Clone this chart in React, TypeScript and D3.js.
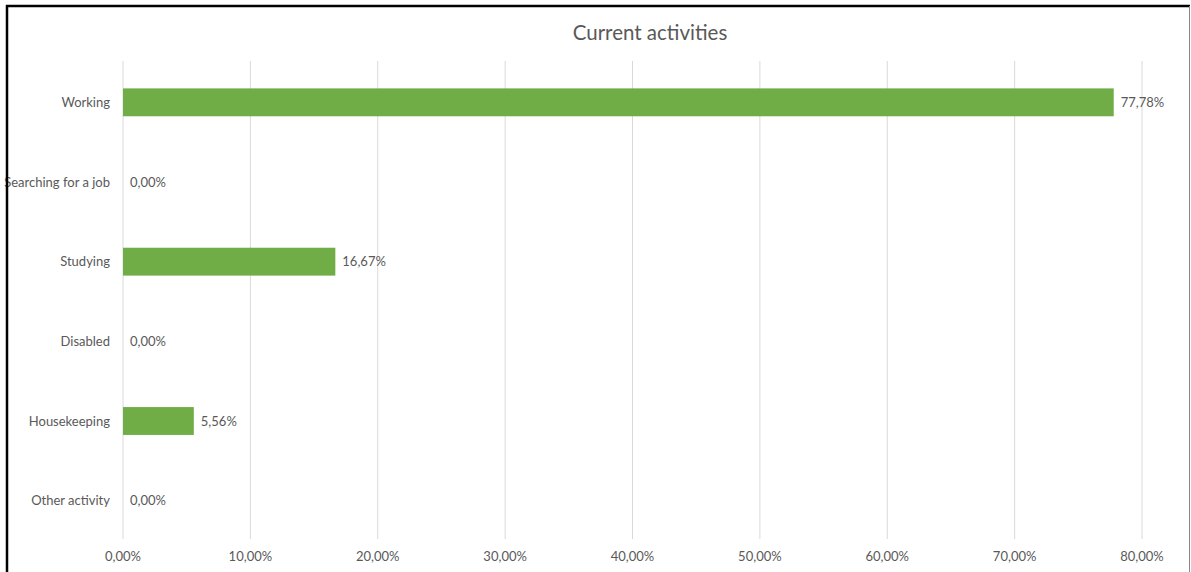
import React from "react";
import * as d3 from "d3";

const categories = ["Working", "Searching for a job", "Studying", "Disabled", "Housekeeping", "Other activity"];
const values = [77.78, 0, 16.67, 0, 5.56, 0];
const ticks = [0, 10, 20, 30, 40, 50, 60, 70, 80];
const title = "Current activities";

const W = 1191, H = 572;
const fmt = (v: number) => v.toFixed(2).replace(".", ",") + "%";

export default function App() {
  const x = d3.scaleLinear().domain([0, 80]).range([123, 1142]);
  const y = d3.scaleBand().domain(categories).range([62.5, 540.5]).paddingInner(0.65).paddingOuter(0.325);
  const font = "Lato, 'Open Sans', sans-serif";
  return (
    <svg width={W} height={H} style={{ position: "absolute", left: 0, top: 0, background: "#fff" }}>
      <rect x={0} y={0} width={W} height={H} fill="#fff" />
      <text x={650} y={40} textAnchor="middle" fontSize={20.5} fill="#595959" fontFamily={font}>{title}</text>
      {ticks.map((t) => (
        <g key={t}>
          <line x1={x(t)} x2={x(t)} y1={61} y2={539} stroke="#d9d9d9" strokeWidth={1} />
          <text x={x(t)} y={561} textAnchor="middle" fontSize={13} fill="#595959" fontFamily={font}>{fmt(t)}</text>
        </g>
      ))}
      {categories.map((c, i) => {
        const yy = y(c)!;
        const bw = y.bandwidth();
        return (
          <g key={c}>
            <rect x={x(0)} y={yy} width={x(values[i]) - x(0)} height={bw} fill="#70AD47" />
            <text x={110} y={yy + bw / 2 + 4.5} textAnchor="end" fontSize={13} fill="#595959" fontFamily={font}>{c}</text>
            <text x={x(values[i]) + 7} y={yy + bw / 2 + 4.5} fontSize={13} fill="#595959" fontFamily={font}>{fmt(values[i])}</text>
          </g>
        );
      })}
      <line x1={7} x2={7} y1={5} y2={H} stroke="#000" strokeWidth={2.5} />
      <line x1={6} x2={1190} y1={6} y2={6} stroke="#000" strokeWidth={2.5} />
      <line x1={1189.5} x2={1189.5} y1={6} y2={H} stroke="#888" strokeWidth={1} />
    </svg>
  );
}
